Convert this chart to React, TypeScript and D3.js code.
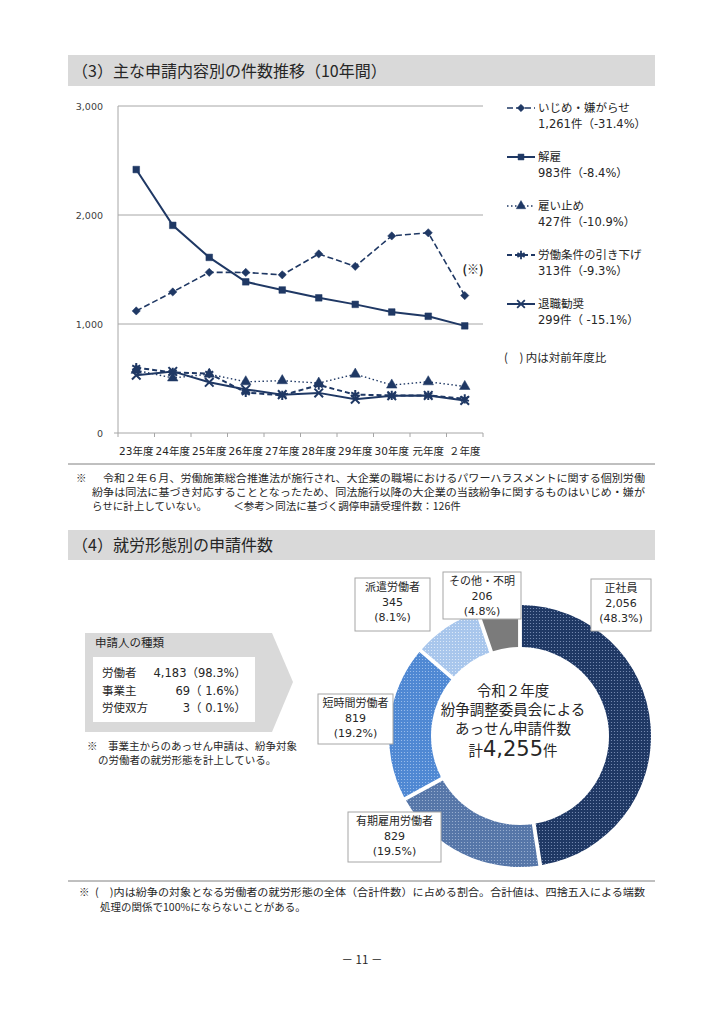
import React from 'react';
import * as d3 from 'd3';

// line chart data (件数)
const years = ['23年度', '24年度', '25年度', '26年度', '27年度', '28年度', '29年度', '30年度', '元年度', '２年度'];
const ijime = [1120, 1294, 1474, 1473, 1451, 1643, 1529, 1808, 1837, 1261];
const kaiko = [2417, 1905, 1611, 1387, 1312, 1240, 1180, 1110, 1071, 983];
const yatoidome = [575, 505, 540, 470, 480, 458, 540, 440, 470, 427];
const roudouJouken = [600, 555, 545, 372, 345, 440, 352, 345, 345, 313];
const taishoku = [530, 565, 465, 400, 352, 368, 310, 342, 345, 299];
const yTicks = [0, 1000, 2000, 3000];

const legendNames = ['いじめ・嫌がらせ', '解雇', '雇い止め', '労働条件の引き下げ', '退職勧奨'];
const legendValues = ['1,261件（-31.4%）', '983件（-8.4%）', '427件（-10.9%）', '313件（-9.3%）', '299件（ -15.1%）'];

// donut data
const formNames = ['正社員', '有期雇用労働者', '短時間労働者', '派遣労働者', 'その他・不明'];
const formValues = [2056, 829, 819, 345, 206];
const formPcts = ['(48.3%)', '(19.5%)', '(19.2%)', '(8.1%)', '(4.8%)'];

const applicantNames = ['労働者', '事業主', '労使双方'];
const applicantValues = ['4,183（98.3%）', '69（ 1.6%）', '3（ 0.1%）'];

const NAVY = '#1f3864';
const JP = '"Noto Sans CJK JP", sans-serif';
const NUM = '"DejaVu Sans", "Noto Sans CJK JP", sans-serif';

const seriesStyle = [
  { values: ijime, dash: '6,3', width: 1.6, symbol: d3.symbolSquare, size: 34, stroke: false, rotate: 45 },
  { values: kaiko, dash: null, width: 2, symbol: d3.symbolSquare, size: 44, stroke: false, rotate: 0 },
  { values: yatoidome, dash: '1.5,2.5', width: 1.4, symbol: d3.symbolTriangle, size: 48, stroke: false, rotate: 0 },
  { values: roudouJouken, dash: '5,3', width: 2, symbol: d3.symbolAsterisk, size: 60, stroke: true, rotate: 0 },
  { values: taishoku, dash: null, width: 2, symbol: d3.symbolTimes, size: 50, stroke: true, rotate: 0 },
];

// positions of donut label boxes [x, y, w, h]
const boxPos: [number, number, number, number][] = [
  [591, 579, 60, 52],
  [348, 812, 93, 50],
  [318, 694, 75, 50],
  [355, 578, 75, 53],
  [443, 572, 78, 47],
];

const LineChart = () => {
  const x = d3.scaleBand<string>().domain(years).range([118, 483]);
  const y = d3.scaleLinear().domain([0, 3000]).range([433, 106]);
  const cx = (i: number) => (x(years[i]) as number) + x.bandwidth() / 2;
  const line = d3.line<number>().x((_, i) => cx(i)).y(d => y(d));
  const bounds = years.map(yr => x(yr) as number).concat([483]);

  return (
    <g>
      {yTicks.map(t => (
        <g key={t}>
          {t > 0 && <line x1={118} x2={483} y1={y(t)} y2={y(t)} stroke="#a6a6a6" strokeWidth={1} />}
          <text x={103} y={y(t) + 3.5} textAnchor="end" fontFamily={NUM} fontSize={9.5} fill="#404040">
            {d3.format(',')(t)}
          </text>
        </g>
      ))}
      <line x1={118} x2={118} y1={106} y2={433} stroke="#a6a6a6" />
      <line x1={114} x2={483} y1={433} y2={433} stroke="#a6a6a6" />
      {bounds.map((b, i) => (
        <line key={i} x1={b} x2={b} y1={433} y2={437} stroke="#a6a6a6" />
      ))}
      {years.map((yr, i) => (
        <text key={yr} x={cx(i)} y={455} textAnchor="middle" fontFamily={NUM} fontSize={10.5} fill="#262626">
          {yr}
        </text>
      ))}
      {seriesStyle.map((s, k) => (
        <g key={k}>
          <path d={line(s.values) || ''} fill="none" stroke={NAVY} strokeWidth={s.width}
            strokeDasharray={s.dash || undefined} />
          {s.values.map((v, i) => (
            <path key={i} transform={`translate(${cx(i)},${y(v)}) rotate(${s.rotate})`}
              d={d3.symbol().type(s.symbol).size(s.size)() || ''}
              fill={s.stroke ? 'none' : NAVY} stroke={NAVY} strokeWidth={s.stroke ? 2 : 0.5} />
          ))}
        </g>
      ))}
      <text x={473} y={274} textAnchor="middle" fontFamily={JP} fontSize={12} fontWeight="bold" fill="#262626">(※)</text>

      {/* legend */}
      {seriesStyle.map((s, k) => {
        const ly = 108 + k * 49;
        return (
          <g key={k}>
            <line x1={507} x2={535} y1={ly} y2={ly} stroke={NAVY} strokeWidth={s.width}
              strokeDasharray={s.dash || undefined} />
            <path transform={`translate(521,${ly}) rotate(${s.rotate})`} d={d3.symbol().type(s.symbol).size(s.size * 0.8)() || ''}
              fill={s.stroke ? 'none' : NAVY} stroke={NAVY} strokeWidth={s.stroke ? 1.8 : 0.5} />
            <text x={538} y={ly + 4} fontFamily={JP} fontSize={11.5} fill="#262626">{legendNames[k]}</text>
            <text x={538} y={ly + 20} fontFamily={NUM} fontSize={11.5} fill="#262626">{legendValues[k]}</text>
          </g>
        );
      })}
      <text x={504} y={362} fontFamily={JP} fontSize={11.5} fill="#262626">(　) 内は対前年度比</text>
    </g>
  );
};

const patternColors = [
  { base: '#1f3864', dot: '#8094bb' },
  { base: '#5676a8', dot: '#a2b6d6' },
  { base: '#4f88d3', dot: '#a3c4ee' },
  { base: '#a8c6ec', dot: '#e4eefb' },
  { base: '#7b7b7b', dot: '#7b7b7b' },
];

const Donut = () => {
  const cxp = 520;
  const cyp = 736;
  const pie = d3.pie<number>().sort(null).value(d => d).padAngle(0.035);
  const arcs = pie(formValues);
  const arc = d3.arc<d3.PieArcDatum<number>>().innerRadius(89).outerRadius(131).padRadius(110);
  return (
    <g>
      <defs>
        {patternColors.map((c, i) => (
          <pattern key={i} id={`pat${i}`} width={3} height={3} patternUnits="userSpaceOnUse">
            <rect width={3} height={3} fill={c.base} />
            <circle cx={1.5} cy={1.5} r={0.6} fill={c.dot} />
          </pattern>
        ))}
      </defs>
      <g transform={`translate(${cxp},${cyp})`}>
        {arcs.map((a, i) => (
          <path key={i} d={arc(a) || ''} fill={`url(#pat${i})`} />
        ))}
      </g>
      {formNames.map((n, i) => {
        const [bx, by, bw, bh] = boxPos[i];
        const mx = bx + bw / 2;
        return (
          <g key={n}>
            <rect x={bx} y={by} width={bw} height={bh} fill="#fff" stroke="#a6a6a6" strokeWidth={1} />
            <text x={mx} y={by + 13} textAnchor="middle" fontFamily={JP} fontSize={11} fill="#262626">{n}</text>
            <text x={mx} y={by + 28} textAnchor="middle" fontFamily={NUM} fontSize={11} fill="#262626">
              {d3.format(',')(formValues[i])}
            </text>
            <text x={mx} y={by + 43} textAnchor="middle" fontFamily={NUM} fontSize={11} fill="#262626">{formPcts[i]}</text>
          </g>
        );
      })}
      <g fontFamily={JP} fill="#262626" textAnchor="middle">
        <text x={513} y={696} fontSize={14.5}>令和２年度</text>
        <text x={513} y={715} fontSize={14.5}>紛争調整委員会による</text>
        <text x={513} y={734} fontSize={14.5}>あっせん申請件数</text>
        <text x={513} y={756}>
          <tspan fontSize={14.5}>計</tspan>
          <tspan fontSize={21} fontFamily={NUM}>{d3.format(',')(d3.sum(formValues))}</tspan>
          <tspan fontSize={14.5}>件</tspan>
        </text>
      </g>
    </g>
  );
};

const Applicants = () => (
  <g fontFamily={JP} fill="#262626">
    <path d="M85,633 L272,633 L293,682 L272,732 L85,732 Z" fill="#d9d9d9" />
    <text x={95} y={647} fontSize={11.5}>申請人の種類</text>
    <rect x={93} y={657} width={162} height={65} fill="#fff" />
    {applicantNames.map((n, i) => (
      <g key={n}>
        <text x={102} y={677 + i * 17.5} fontSize={11.5}>{n}</text>
        <text x={246} y={677 + i * 17.5} fontSize={11.5} fontFamily={NUM} textAnchor="end">{applicantValues[i]}</text>
      </g>
    ))}
    <text x={87} y={750} fontSize={10.5}>※　事業主からのあっせん申請は、紛争対象</text>
    <text x={98} y={764} fontSize={10.5}>の労働者の就労形態を計上している。</text>
  </g>
);

export default function App() {
  return (
    <svg width={724} height={1024} style={{ position: 'absolute', left: 0, top: 0, background: '#fff' }}>
      <rect x={68} y={55} width={587} height={31} fill="#d9d9d9" />
      <text x={72} y={77} fontFamily={JP} fontSize={16} fill="#262626">（3）主な申請内容別の件数推移（10年間）</text>
      <LineChart />
      <line x1={68} x2={655} y1={464} y2={464} stroke="#808080" />
      <g fontFamily={JP} fontSize={10.5} fill="#262626">
        <text x={76} y={482}>※</text>
        <text x={103} y={482} textLength={542} lengthAdjust="spacingAndGlyphs">令和２年６月、労働施策総合推進法が施行され、大企業の職場におけるパワーハラスメントに関する個別労働</text>
        <text x={92} y={496} textLength={553} lengthAdjust="spacingAndGlyphs">紛争は同法に基づき対応することとなったため、同法施行以降の大企業の当該紛争に関するものはいじめ・嫌が</text>
        <text x={92} y={510}>らせに計上していない。　　　＜参考＞同法に基づく調停申請受理件数：126件</text>
      </g>
      <rect x={68} y={530} width={587} height={30} fill="#d9d9d9" />
      <text x={72} y={551} fontFamily={JP} fontSize={16} fill="#262626">（4）就労形態別の申請件数</text>
      <Applicants />
      <Donut />
      <line x1={68} x2={655} y1={881} y2={881} stroke="#808080" />
      <g fontFamily={JP} fontSize={10.5} fill="#262626">
        <text x={79} y={896}>※</text>
        <text x={95} y={896} textLength={550} lengthAdjust="spacingAndGlyphs">(　)内は紛争の対象となる労働者の就労形態の全体（合計件数）に占める割合。合計値は、四捨五入による端数</text>
        <text x={100} y={911}>処理の関係で100%にならないことがある。</text>
        <text x={362} y={964} textAnchor="middle" fontSize={11.5}>－ 11 －</text>
      </g>
    </svg>
  );
}
